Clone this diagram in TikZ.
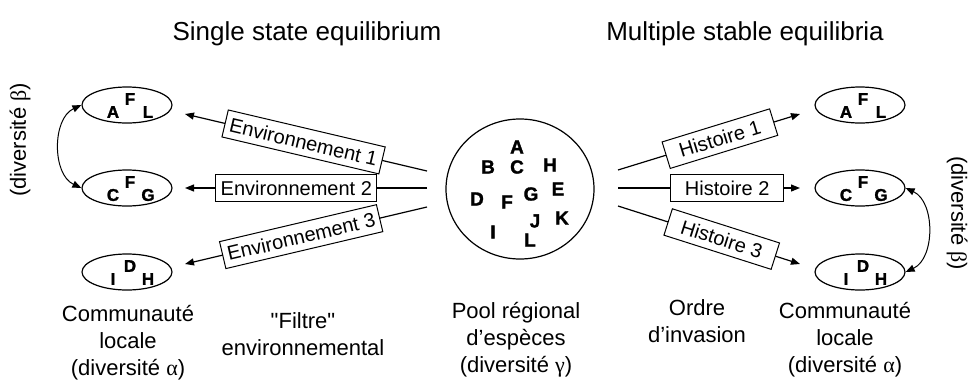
\documentclass[tikz,border=0pt]{standalone}
\usepackage{fontspec}
\setmainfont{Liberation Sans}
\newfontfamily\grk{Liberation Serif}
\newfontfamily\nomap{Liberation Sans}[Ligatures=ResetAll]
\newfontfamily\heavy{Liberation Sans}[BoldFeatures={FakeBold=1.5}]
\usetikzlibrary{shapes.geometric,arrows.meta}
\begin{document}
\begin{tikzpicture}[x=1pt,y=-1pt,
  every node/.style={font=\fontsize{22}{27}\selectfont},
  comm/.style={draw, ellipse, minimum width=90, minimum height=36, inner sep=0, line width=1.2pt},
  ltr/.style={font=\fontsize{17}{17}\selectfont\heavy\bfseries, inner sep=0},
  pl/.style={font=\fontsize{19}{19}\selectfont\heavy\bfseries, inner sep=0},
  arr/.style={line width=1.2pt, -{Triangle[length=9pt,width=7pt]}},
  ebox/.style={draw, fill=white, line width=1pt, inner xsep=5, inner ysep=6.5, font=\fontsize{20}{20}\selectfont},
  hbox/.style={ebox, inner xsep=14},
  lab/.style={align=center, anchor=base},
  head/.style={anchor=base, font=\fontsize{26}{26}\selectfont},
  dbl/.style={line width=1pt, {Triangle[length=9pt,width=7pt]}-{Triangle[length=9pt,width=7pt]}}
]
\useasboundingbox (0,0) rectangle (970,381);

% headings
\node[head] (h1) at (307,40) {Single state equilibrium};
\node[head] (h2) at (745,40) {Multiple stable equilibria};

% left communities
\node[comm] (L1) at (127,105) {};
\node[comm] (L2) at (127,188) {};
\node[comm] (L3) at (127,272) {};
% right communities
\node[comm] (R1) at (860,105) {};
\node[comm] (R2) at (860,188) {};
\node[comm] (R3) at (860,272) {};

% letters in ellipses
\node[ltr] (l1a) at ([shift={(-14,7)}]L1) {A};
\node[ltr] (l1b) at ([shift={(3,-6)}]L1) {F};
\node[ltr] (l1c) at ([shift={(21,7)}]L1) {L};
\node[ltr] (l2a) at ([shift={(-14,7)}]L2) {C};
\node[ltr] (l2b) at ([shift={(3,-6)}]L2) {F};
\node[ltr] (l2c) at ([shift={(21,7)}]L2) {G};
\node[ltr] (l3a) at ([shift={(-14,7)}]L3) {I};
\node[ltr] (l3b) at ([shift={(3,-6)}]L3) {D};
\node[ltr] (l3c) at ([shift={(21,7)}]L3) {H};
\node[ltr] (r1a) at ([shift={(-14,7)}]R1) {A};
\node[ltr] (r1b) at ([shift={(3,-6)}]R1) {F};
\node[ltr] (r1c) at ([shift={(21,7)}]R1) {L};
\node[ltr] (r2a) at ([shift={(-14,7)}]R2) {C};
\node[ltr] (r2b) at ([shift={(3,-6)}]R2) {F};
\node[ltr] (r2c) at ([shift={(21,7)}]R2) {G};
\node[ltr] (r3a) at ([shift={(-14,7)}]R3) {I};
\node[ltr] (r3b) at ([shift={(3,-6)}]R3) {D};
\node[ltr] (r3c) at ([shift={(21,7)}]R3) {H};

% regional pool
\node[draw, ellipse, minimum width=148, minimum height=140, line width=1.2pt] (pool) at (520,189) {};
\node[pl] (pA) at (517,147) {A};
\node[pl] (pB) at (488,167) {B};
\node[pl] (pC) at (517,167) {C};
\node[pl] (pH) at (550,165) {H};
\node[pl] (pE) at (558,189) {E};
\node[pl] (pG) at (531,194) {G};
\node[pl] (pD) at (477,199) {D};
\node[pl] (pF) at (507,202) {F};
\node[pl] (pJ) at (535,221) {J};
\node[pl] (pK) at (562,218) {K};
\node[pl] (pI) at (493,232) {I};
\node[pl] (pL) at (530,240) {L};

% environment arrows
\coordinate (e1s) at (427,171); \coordinate (e1t) at (185,114);
\coordinate (e2s) at (427,188); \coordinate (e2t) at (185,188);
\coordinate (e3s) at (427,207); \coordinate (e3t) at (185,264);
\draw[arr] (e1s) -- node[ebox, sloped, pos=0.51] (b1) {Environnement 1} (e1t);
\draw[arr] (e2s) -- node[ebox, pos=0.54] (b2) {Environnement 2} (e2t);
\draw[arr] (e3s) -- node[ebox, sloped, pos=0.52] (b3) {Environnement 3} (e3t);

% history arrows
\coordinate (h1s) at (618,170); \coordinate (h1t) at (800,114);
\coordinate (h2s) at (618,188); \coordinate (h2t) at (800,188);
\coordinate (h3s) at (618,206); \coordinate (h3t) at (800,264);
\draw[arr] (h1s) -- node[hbox, sloped, pos=0.56] (k1) {Histoire 1} (h1t);
\draw[arr] (h2s) -- node[hbox, pos=0.6] (k2) {Histoire 2} (h2t);
\draw[arr] (h3s) -- node[hbox, sloped, pos=0.57] (k3) {Histoire 3} (h3t);

% beta diversity arrows
\draw[dbl] (L1.west) to[bend right=65] (L2.west);
\draw[dbl] (R2.east) to[bend left=65] (R3.east);
\node[rotate=90] (betaL) at (20,140) {(diversité {\grk β})};
\node[rotate=-90] (betaR) at (957,213) {(diversité {\grk β})};

% bottom labels (anchor = baseline of last line)
\node[lab] (comL) at (128,375) {Communauté\\locale\\(diversité {\grk α})};
\node[lab] (filt) at (303,355) {{\nomap"}Filtre{\nomap"}\\environnemental};
\node[lab] (poolL) at (516,372) {Pool régional\\d’espèces\\(diversité {\grk γ})};
\node[lab] (ordre) at (697,342) {Ordre\\d’invasion};
\node[lab] (comR) at (845,372) {Communauté\\locale\\(diversité {\grk α})};
\end{tikzpicture}
\end{document}
